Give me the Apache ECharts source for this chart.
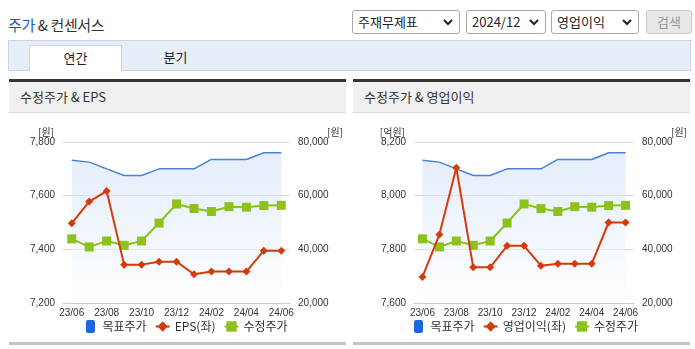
<!DOCTYPE html>
<html><head><meta charset="utf-8">
<script src="https://cdn.jsdelivr.net/npm/echarts@6/dist/echarts.min.js"></script>
<style>
html,body{margin:0;padding:0;background:#fff;width:695px;height:349px;overflow:hidden;font-family:"Noto Sans CJK KR","Noto Sans",sans-serif;}
.abs{position:absolute;}
#title{left:8px;top:14px;font-size:15px;color:#333;letter-spacing:-0.4px;}
#title b{font-weight:normal;color:#1f55c8;}
.sel{position:absolute;top:10px;height:22px;border:1px solid #a9a9a9;border-radius:3px;background:#fff;font-size:13px;color:#222;line-height:22px;padding-left:5px;box-sizing:content-box;}
.sel svg{position:absolute;right:6px;top:8px;}
#btn{position:absolute;left:646px;top:10px;width:44px;height:22px;border:1px solid #c8c8c8;border-radius:3px;background:#e8e8e8;color:#999;font-size:13px;line-height:22px;text-align:center;}
#tabbar{left:8px;top:40px;width:681px;height:29px;background:#e8eef8;border:1px solid #c8d4e8;}
#tab1{left:29px;top:45px;width:91px;height:25px;background:#fff;border:1px solid #c8d4e8;border-bottom:none;font-size:13px;color:#222;text-align:center;line-height:24px;}
#tab2{left:148px;top:45px;width:55px;height:25px;font-size:13px;color:#222;text-align:center;line-height:24px;}
.ph{height:30px;background:#f0f0f0;border-top:3px solid #333;border-bottom:1px solid #dcdcdc;font-size:13px;color:#333;line-height:30px;padding-left:11px;box-sizing:content-box;}
.pb{height:3px;background:#c4c4c4;}
</style></head>
<body>
<div id="title" class="abs"><b>주가</b> &amp; 컨센서스</div>
<div class="sel" style="left:352px;width:101px;">주재무제표<svg width="10" height="7" viewBox="0 0 10 7"><path d="M1 1 L5 5 L9 1" stroke="#222" stroke-width="2" fill="none"/></svg></div>
<div class="sel" style="left:466px;width:73px;">2024/12<svg width="10" height="7" viewBox="0 0 10 7"><path d="M1 1 L5 5 L9 1" stroke="#222" stroke-width="2" fill="none"/></svg></div>
<div class="sel" style="left:551px;width:81px;">영업이익<svg width="10" height="7" viewBox="0 0 10 7"><path d="M1 1 L5 5 L9 1" stroke="#222" stroke-width="2" fill="none"/></svg></div>
<div id="btn">검색</div>
<div id="tabbar" class="abs"></div>
<div id="tab1" class="abs">연간</div>
<div id="tab2" class="abs">분기</div>

<div class="abs" style="left:9px;top:79px;width:337px;"><div class="ph">수정주가 &amp; EPS</div></div>
<div class="abs" style="left:353px;top:79px;width:337px;"><div class="ph">수정주가 &amp; 영업이익</div></div>
<div id="c1" class="abs" style="left:9px;top:113px;width:337px;height:229px;"></div>
<div id="c2" class="abs" style="left:353px;top:113px;width:337px;height:229px;"></div>
<div class="abs pb" style="left:9px;top:342px;width:337px;"></div>
<div class="abs pb" style="left:353px;top:342px;width:337px;"></div>

<script>
const months = ['23/06','23/07','23/08','23/09','23/10','23/11','23/12','24/01','24/02','24/03','24/04','24/05','24/06'];
const targetPrice = [73200,72500,70000,67500,67500,70000,70000,70000,73500,73500,73500,76000,76000];
const adjPrice = [43900,40900,43100,41500,43100,49800,56900,55200,54100,55900,55700,56300,56400];
const eps = [7497,7578,7617,7343,7343,7354,7354,7307,7317,7317,7317,7395,7395];
const opProfit = [7697,7855,8104,7733,7733,7813,7813,7739,7746,7746,7746,7900,7900];
const epsAxis = {min:7200, max:7800, interval:200};
const opAxis = {min:7600, max:8200, interval:200};
const priceAxis = {min:20000, max:80000, interval:20000};

const FONT = '"Noto Sans CJK KR","Liberation Sans",sans-serif';
const ROUND_ICON = 'path://M2,0 L7,0 Q9,0 9,2 L9,11 Q9,13 7,13 L2,13 Q0,13 0,11 L0,2 Q0,0 2,0 Z';
function fmt(v){return v.toLocaleString('en-US');}

function build(el, gridLeft, gridWidth, leftName, leftRange, leftSeriesName, leftData, legendLeft){
  const chart = echarts.init(document.getElementById(el), null, {renderer:'canvas'});
  chart.setOption({
    animation:false,
    textStyle:{fontFamily:FONT},
    legend:{
      left:legendLeft, top:202, itemGap:8, itemWidth:14, itemHeight:13,
      textStyle:{fontSize:12, color:'#333', fontFamily:FONT},
      data:[
        {name:'목표주가', icon:ROUND_ICON, itemStyle:{color:'#2067dd'}},
        {name:leftSeriesName},
        {name:'수정주가'}
      ]
    },
    grid:{left:gridLeft, top:29, width:gridWidth, height:161},
    xAxis:{
      type:'category', data:months, boundaryGap:true,
      axisLine:{lineStyle:{color:'#c4d0e0'}},
      axisTick:{length:4, interval:function(i){return i%2===1;}, lineStyle:{color:'#c4d0e0'}},
      axisLabel:{interval:1, fontSize:10, color:'#333', margin:5, fontFamily:'"Liberation Sans",sans-serif'},
      splitLine:{show:false}
    },
    yAxis:[
      {type:'value', position:'left', min:leftRange.min, max:leftRange.max, interval:leftRange.interval,
       name:leftName, nameLocation:'end', nameGap:4,
       nameTextStyle:{align:'right', verticalAlign:'bottom', padding:[0,9,0,0], fontSize:10, color:'#333', fontFamily:FONT},
       axisLine:{show:false}, axisTick:{show:false},
       axisLabel:{fontSize:10, color:'#333', margin:8, formatter:fmt, fontFamily:'"Liberation Sans",sans-serif'},
       splitLine:{lineStyle:{color:'#d9d9d9'}}},
      {type:'value', position:'right', min:priceAxis.min, max:priceAxis.max, interval:priceAxis.interval,
       name:'[원]', nameLocation:'end', nameGap:4,
       nameTextStyle:{align:'left', verticalAlign:'bottom', padding:[0,0,0,37], fontSize:10, color:'#333', fontFamily:FONT},
       axisLine:{show:false}, axisTick:{show:false},
       axisLabel:{fontSize:10, color:'#333', margin:8, formatter:fmt, fontFamily:'"Liberation Sans",sans-serif'},
       splitLine:{show:false}}
    ],
    series:[
      {name:'목표주가', type:'line', yAxisIndex:1, data:targetPrice, showSymbol:false, symbol:'none',
       lineStyle:{color:'#4a80d9', width:1.5}, itemStyle:{color:'#2067dd'},
       areaStyle:{color:new echarts.graphic.LinearGradient(0,0,0,1,[{offset:0,color:'rgba(205,222,246,0.75)'},{offset:1,color:'rgba(255,255,255,0.9)'}])},
       z:1},
      {name:'수정주가', type:'line', yAxisIndex:1, data:adjPrice, symbol:'rect', symbolSize:9,
       lineStyle:{color:'#8cc21c', width:2}, itemStyle:{color:'#8cc21c'}, z:3},
      {name:leftSeriesName, type:'line', yAxisIndex:0, data:leftData, symbol:'diamond', symbolSize:8,
       lineStyle:{color:'#d43b0b', width:2}, itemStyle:{color:'#d43b0b'}, z:4}
    ]
  });
}
build('c1', 54, 229, '[원]', epsAxis, 'EPS(좌)', eps, 72);
build('c2', 61, 221, '[억원]', opAxis, '영업이익(좌)', opProfit, 56);
</script>
</body></html>
